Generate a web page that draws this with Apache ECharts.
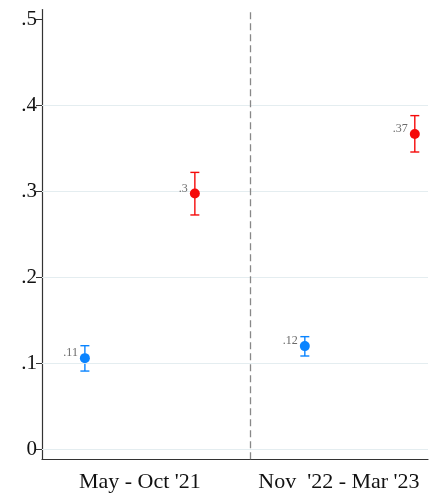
<!DOCTYPE html>
<html>
<head>
<meta charset="utf-8">
<script src="https://cdn.jsdelivr.net/npm/echarts@6/dist/echarts.min.js"></script>
<style>html,body{margin:0;padding:0;background:#fff}#c{width:435px;height:495px}</style>
</head>
<body>
<div id="c"></div>
<script>
// Data
var periodLabels = ["May - Oct '21", "Nov  '22 - Mar '23"];
var periodLabelPos = [1.5, 3.31];
var blueX = [1, 3];
var blueVal = [0.106, 0.120];
var blueLow = [0.091, 0.1085];
var blueHigh = [0.1205, 0.131];
var blueLabel = [".11", ".12"];
var redX = [2, 4];
var redVal = [0.2975, 0.3667];
var redLow = [0.2725, 0.3457];
var redHigh = [0.322, 0.388];
var redLabel = [".3", ".37"];
var yTicks = [0, 0.1, 0.2, 0.3, 0.4, 0.5];
var yTickLabels = ["0", ".1", ".2", ".3", ".4", ".5"];
var gridVals = [0, 0.1, 0.2, 0.3, 0.4];
var dividerX = 2.5;

var BLUE = '#0a84ff', RED = '#f50a0a';
var SERIF = '"Liberation Serif", "DejaVu Serif", serif';

function errData(xs, lo, hi) {
  return xs.map(function (x, i) { return [x, lo[i], hi[i]]; });
}
function errSeries(xs, lo, hi, color) {
  return {
    type: 'custom',
    data: errData(xs, lo, hi),
    z: 3,
    renderItem: function (params, api) {
      var x = api.value(0);
      var p1 = api.coord([x, api.value(1)]);
      var p2 = api.coord([x, api.value(2)]);
      var w = 4.5;
      var st = { stroke: color, lineWidth: 1.4 };
      return {
        type: 'group',
        children: [
          { type: 'line', shape: { x1: p1[0], y1: p1[1], x2: p2[0], y2: p2[1] }, style: st },
          { type: 'line', shape: { x1: p1[0] - w, y1: p1[1], x2: p1[0] + w, y2: p1[1] }, style: st },
          { type: 'line', shape: { x1: p2[0] - w, y1: p2[1], x2: p2[0] + w, y2: p2[1] }, style: st }
        ]
      };
    }
  };
}
function ptSeries(xs, vals, labels, color) {
  return {
    type: 'scatter',
    symbol: 'circle',
    symbolSize: 10,
    z: 5,
    itemStyle: { color: color, opacity: 1 },
    emphasis: { disabled: true },
    data: xs.map(function (x, i) { return { value: [x, vals[i]], lbl: labels[i] }; }),
    label: {
      show: true,
      position: 'left',
      distance: 2,
      offset: [0, -5],
      fontFamily: SERIF,
      fontSize: 12,
      color: '#6a6a6a',
      formatter: function (p) { return p.data.lbl; }
    }
  };
}

var chart = echarts.init(document.getElementById('c'));
chart.setOption({
  animation: false,
  grid: { left: 42, right: 7, top: 9.5, bottom: 35.7 },
  xAxis: {
    type: 'value',
    min: 0.61,
    max: 4.12,
    splitLine: { show: false },
    axisTick: { show: false },
    axisLine: { show: true, onZero: false, lineStyle: { color: '#333', width: 1.2 } },
    axisLabel: {
      customValues: periodLabelPos,
      formatter: function (v) {
        var i = periodLabelPos.indexOf(v);
        return i >= 0 ? periodLabels[i] : '';
      },
      fontFamily: SERIF,
      fontSize: 22,
      color: '#111',
      margin: 12
    }
  },
  yAxis: {
    type: 'value',
    min: -0.0116,
    max: 0.5114,
    splitLine: { show: false },
    axisLine: { show: true, lineStyle: { color: '#333', width: 1.2 } },
    axisTick: { show: true, customValues: yTicks, length: 6, lineStyle: { color: '#333' } },
    axisLabel: {
      customValues: yTicks,
      formatter: function (v) {
        var i = yTicks.indexOf(v);
        return i >= 0 ? yTickLabels[i] : '';
      },
      fontFamily: SERIF,
      fontSize: 21,
      color: '#111',
      margin: 5
    }
  },
  series: [
    {
      type: 'line',
      z: 0,
      data: [],
      markLine: {
        silent: true,
        symbol: 'none',
        label: { show: false },
        data: gridVals.map(function (v) {
          return { yAxis: v, lineStyle: { color: '#e4edf0', width: 1, type: 'solid' } };
        }).concat([{ xAxis: dividerX, lineStyle: { color: '#888', width: 1.3, type: [7, 4] } }])
      }
    },
    errSeries(blueX, blueLow, blueHigh, BLUE),
    errSeries(redX, redLow, redHigh, RED),
    ptSeries(blueX, blueVal, blueLabel, BLUE),
    ptSeries(redX, redVal, redLabel, RED)
  ]
});
</script>
</body>
</html>
